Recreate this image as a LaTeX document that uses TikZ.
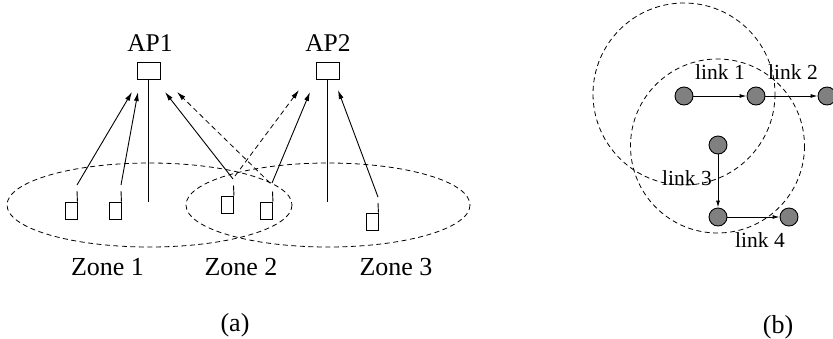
\documentclass[tikz,border=0pt]{standalone}
\usepackage{fontspec}
\setmainfont{Liberation Serif}
\usetikzlibrary{arrows.meta}
\begin{document}
\begin{tikzpicture}[x=1pt,y=-1pt,
  ln/.style={line width=0.9pt},
  dsh/.style={line width=0.8pt, dash pattern=on 5pt off 3.5pt},
  arr/.style={ln,-{Latex[length=9pt,width=5pt]}},
  darr/.style={dsh,-{Latex[length=9pt,width=5pt]}},
  apbox/.style={draw,line width=0.9pt,minimum width=23pt,minimum height=17pt,inner sep=0pt},
  dev/.style={draw,line width=0.9pt,minimum width=12pt,minimum height=17pt,inner sep=0pt},
  lab/.style={font=\fontsize{26}{30}\selectfont,inner sep=0pt},
  aplab/.style={font=\fontsize{25.5}{29}\selectfont,inner sep=0pt},
  lnk/.style={font=\fontsize{21.5}{25}\selectfont,inner sep=0pt},
  stn/.style={circle,draw,fill=gray,line width=0.9pt,minimum size=18pt,inner sep=0pt},
  sarr/.style={ln,-{Latex[length=7pt,width=4pt]}}
]
\useasboundingbox (0,0) rectangle (833,338);
% ---------- panel (a) ----------
\draw[dsh] (149.5,205) ellipse [x radius=142.5, y radius=42];
\draw[dsh] (328,205) ellipse [x radius=142, y radius=42];

\node[apbox] (ap1) at (148.5,70.5) {};
\node[apbox] (ap2) at (327.5,70.5) {};
\node[aplab] (ap1l) at (150,43.5) {AP1};
\node[aplab] (ap2l) at (328,43.5) {AP2};
\coordinate (g1) at (148.5,202);
\coordinate (g2) at (327.5,202);
\draw[ln] (ap1.south) -- (g1);
\draw[ln] (ap2.south) -- (g2);

% devices
\node[dev] (d1) at (71,210.5) {};
\node[dev] (d2) at (115,210.5) {};
\node[dev] (d3) at (227.5,204.5) {};
\node[dev] (d4) at (266.5,210.5) {};
\node[dev] (d5) at (372,221.5) {};
\coordinate (a1) at (77,191);
\coordinate (a2) at (121,191);
\coordinate (a3) at (233.5,185.5);
\coordinate (a4) at (272.5,191.5);
\coordinate (a5) at (378,203);
\draw[ln] (d1.north east) -- (a1);
\draw[ln] (d2.north east) -- (a2);
\draw[ln] (d3.north east) -- (a3);
\draw[ln] (d4.north east) -- (a4);
\draw[ln] (d5.north east) -- (a5);

% arrow starts and ends
\coordinate (s1) at (77,185);
\coordinate (s2) at (121,185);
\coordinate (s3) at (233,179);
\coordinate (s3d) at (235,176);
\coordinate (s4) at (272,183);
\coordinate (s4d) at (270,183);
\coordinate (s5) at (378,197);
\coordinate (t1) at (132,92);
\coordinate (t2) at (138,92);
\coordinate (t3) at (165,92);
\coordinate (t4) at (177,92);
\coordinate (t5) at (299,90);
\coordinate (t6) at (310,92);
\coordinate (t7) at (338,90);
\draw[arr] (s1) -- (t1);
\draw[arr] (s2) -- (t2);
\draw[arr] (s3) -- (t3);
\draw[darr] (s4d) -- (t4);
\draw[darr] (s3d) -- (t5);
\draw[arr] (s4) -- (t6);
\draw[arr] (s5) -- (t7);

\node[lab] (z1) at (107.5,267) {Zone 1};
\node[lab] (z2) at (241,267) {Zone 2};
\node[lab] (z3) at (396,267) {Zone 3};
\node[lab] (capa) at (235,325) {(a)};

% ---------- panel (b) ----------
\draw[dsh] (684,94) circle [radius=91];
\draw[dsh] (717.5,146) circle [radius=87];
\node[stn] (n1) at (684,96) {};
\node[stn] (n2) at (756,96) {};
\node[stn] (n3) at (827,96) {};
\node[stn] (n4) at (718,145) {};
\node[stn] (n5) at (718,217) {};
\node[stn] (n6) at (789,217) {};
\draw[sarr] (n1) -- (n2);
\draw[sarr] (n2) -- (n3);
\draw[sarr] (n4) -- (n5);
\draw[sarr] (n5) -- (n6);
\node[lnk] (l1) at (720,72) {link 1};
\node[lnk] (l2) at (793,72) {link 2};
\node[lnk] (l3) at (687,178) {link 3};
\node[lnk] (l4) at (760,240) {link 4};
\node[lab] (capb) at (778,327) {(b)};
\end{tikzpicture}
\end{document}
